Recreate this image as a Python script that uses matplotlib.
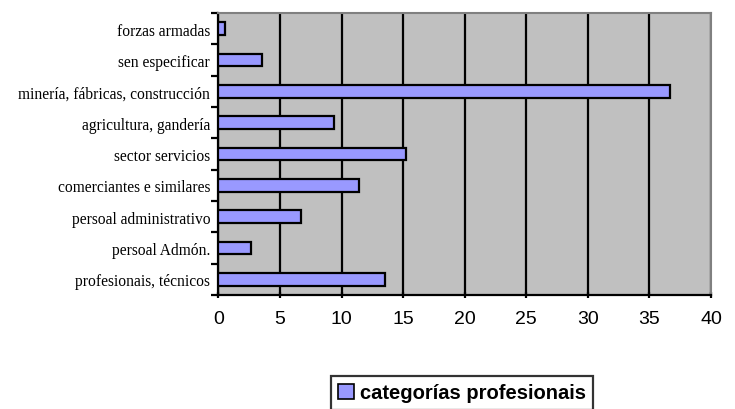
import matplotlib.pyplot as plt
from matplotlib.patches import Patch

categorias = [
    "profesionais, técnicos",
    "persoal Admón.",
    "persoal administrativo",
    "comerciantes e similares",
    "sector servicios",
    "agricultura, gandería",
    "minería, fábricas, construcción",
    "sen especificar",
    "forzas armadas",
]
valores = [13.5, 2.6, 6.7, 11.4, 15.2, 9.4, 36.7, 3.5, 0.5]
ticks_x = [0, 5, 10, 15, 20, 25, 30, 35, 40]
serie = "categorías profesionais"

fig = plt.figure(figsize=(7.35, 4.1), dpi=100)
ax = fig.add_axes([218.5 / 735, 1 - 296 / 410, 492.5 / 735, 282 / 410])
ax.set_facecolor("#c0c0c0")

pos = list(range(len(categorias)))
ax.barh(pos, valores, height=0.4, color="#9999ff", edgecolor="black",
        linewidth=1.6, zorder=3)

ax.set_xlim(0, 40)
ax.set_ylim(-0.5, len(categorias) - 0.5)
ax.set_xticks(ticks_x)
ax.set_xticklabels([str(t) for t in ticks_x], fontfamily="Liberation Sans",
                   fontsize=14)
ax.xaxis.grid(True, color="black", linewidth=1.6, zorder=1)
ax.set_axisbelow(True)

# category labels centered, tick marks on category boundaries
ax.set_yticks(pos)
ax.set_yticklabels(categorias, fontfamily="Liberation Serif", fontsize=11.2)
ax.tick_params(axis="y", length=0, pad=6)
ax.set_yticks([p - 0.5 for p in range(len(categorias) + 1)], minor=True)
ax.tick_params(axis="y", which="minor", length=5, width=1.6, color="black")
ax.tick_params(axis="x", length=5, width=1.6, direction="inout", pad=8)

for lado in ("top", "right"):
    ax.spines[lado].set_color("#808080")
    ax.spines[lado].set_linewidth(1.5)
for lado in ("left", "bottom"):
    ax.spines[lado].set_color("black")
    ax.spines[lado].set_linewidth(1.6)

leg = fig.legend(handles=[Patch(facecolor="#9999ff", edgecolor="black",
                                linewidth=1.2, label=serie)],
                 loc="center", bbox_to_anchor=(462 / 735, 1 - 394 / 410),
                 prop={"family": "Liberation Sans", "weight": "bold",
                       "size": 14.5},
                 frameon=True, fancybox=False, handlelength=0.8,
                 handleheight=0.8, handletextpad=0.3, borderpad=0.35,
                 borderaxespad=0)
leg.get_frame().set_edgecolor("black")
leg.get_frame().set_linewidth(1.6)

fig.savefig("out.png", dpi=100)
